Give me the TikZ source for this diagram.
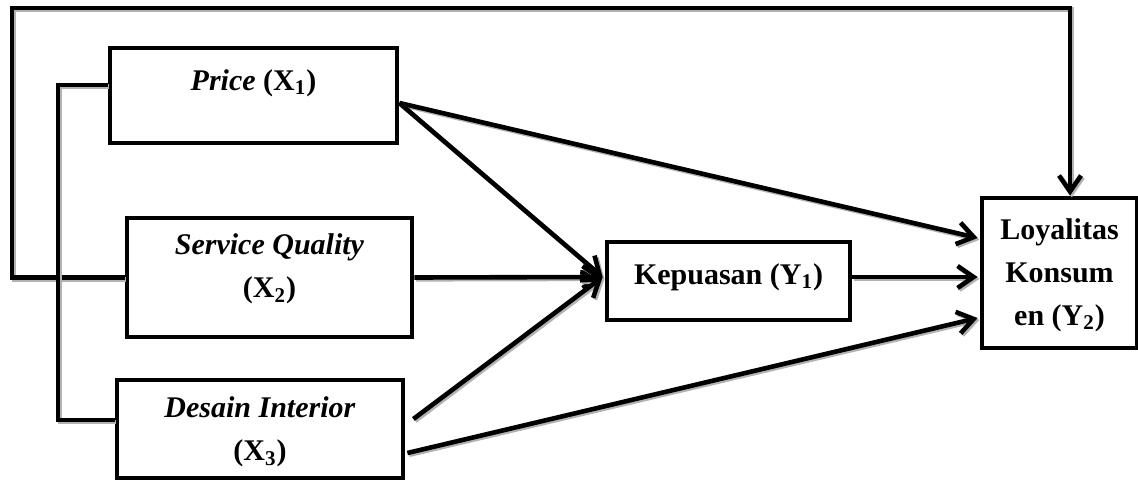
\documentclass[tikz,border=0pt]{standalone}
\usepackage{fontspec}
\setmainfont{Liberation Serif}
\usetikzlibrary{arrows.meta,shadows,calc}
\begin{document}
\begin{tikzpicture}[x=0.5pt,y=-0.5pt,
  box/.style={draw=black,line width=2.4pt,fill=white,inner sep=0pt,
    drop shadow={shadow xshift=1pt,shadow yshift=-1pt,fill=gray!60,opacity=1}},
  lbl/.style={font=\fontsize{15}{21.5}\selectfont\bfseries,align=center,inner sep=0pt},
  conn/.style={line width=2.3pt,line join=miter,
    preaction={draw=gray!60,line width=2.3pt,transform canvas={shift={(0.9pt,-0.9pt)}}}},
  arr/.style={conn,-{Straight Barb[length=8pt,width=11pt,line width=2.3pt]}}
]
\useasboundingbox (0,0) rectangle (1138,480);
% boxes
\node[box,minimum width=143.5pt,minimum height=47.5pt] (price) at (253.5,95.5) {};
\node[box,minimum width=142.5pt,minimum height=59.5pt] (sq) at (269.5,277.5) {};
\node[box,minimum width=143pt,minimum height=49pt] (des) at (260,429) {};
\node[box,minimum width=121.5pt,minimum height=39pt] (kep) at (728.5,281) {};
\node[box,minimum width=77.5pt,minimum height=75pt] (loy) at (1059.5,273) {};
% texts
\node[lbl] (tprice) at (253.5,83) {\textit{Price} (X\textsubscript{1})};
\node[lbl] (tsq) at (269.5,269) {\textit{Service Quality}\\(X\textsubscript{2})};
\node[lbl] (tdes) at (260,432) {\textit{Desain Interior}\\(X\textsubscript{3})};
\node[lbl] (tkep) at (728.5,277) {Kepuasan (Y\textsubscript{1})};
\node[lbl] (tloy) at (1059.5,275) {Loyalitas\\Konsum\\en (Y\textsubscript{2})};
% coordinates
\coordinate (pout) at ($(price.east)+(0,7.5)$);
\coordinate (dout1) at ($(des.east)+(8,-10)$);
\coordinate (dout2) at ($(des.east)+(2,24)$);
\coordinate (kin) at ($(kep.west)+(-2,-4)$);
\coordinate (kout) at ($(kep.east)+(0,-4)$);
\coordinate (lin1) at ($(loy.west)+(-2,-35)$);
\coordinate (lin2) at ($(loy.west)+(-2,4)$);
\coordinate (lin3) at ($(loy.west)+(-2,45)$);
\coordinate (ltop) at ($(loy.north)+(10.5,0)$);
% connectors
\draw[arr] (pout) -- (lin1);
\draw[arr] (pout) -- (kin);
\draw[arr] (sq.east) -- (kin);
\draw[arr] (dout1) -- (kin);
\draw[arr] (dout2) -- (lin3);
\draw[arr] (kout) -- (lin2 |- kout);
% feedback loop
\draw[arr] (sq.west) -- (12,277.5) -- (12,8) -- (1070,8) -- (ltop);
% inner bracket
\draw[conn] ($(price.west)+(0,-10.5)$) -- (58,85) -- (58,420) -- ($(des.west)+(0,-9)$);
\end{tikzpicture}
\end{document}
